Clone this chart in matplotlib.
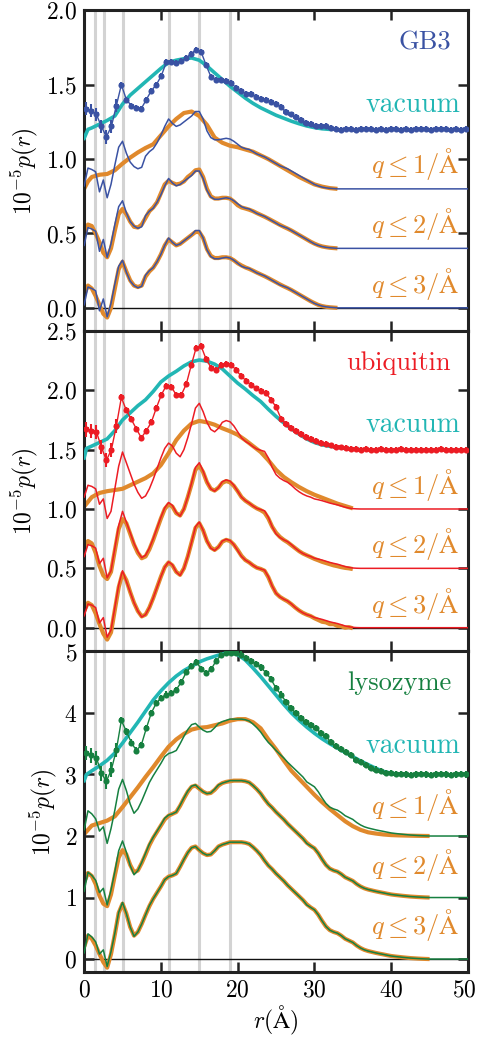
import numpy as np
import matplotlib
matplotlib.use("Agg")
import matplotlib.pyplot as plt
import matplotlib.transforms as mtransforms

plt.rcParams['font.family'] = 'serif'
plt.rcParams['font.serif'] = ['cmr10']
plt.rcParams['mathtext.fontset'] = 'cm'
plt.rcParams['axes.formatter.use_mathtext'] = True

# colours
c_gb3 = '#3a52a3'
c_ubq = '#ec1c24'
c_lys = '#168040'
c_vac = '#22b6b4'
c_org = '#e0892c'

# gray guide lines (Angstrom)
guide_r = [1.4, 2.6, 5.1, 11.0, 15.0, 19.0]

# ---------------- GB3 ----------------
# thin reference p(r), step 0.5 A from 0
gb3_thin = [
    0.02, 0.14, 0.13, 0.115, -0.02, 0.06, -0.06, 0.03, 0.16, 0.28,
    0.32, 0.24, 0.18, 0.15, 0.135, 0.145, 0.22, 0.25, 0.27, 0.31,
    0.36, 0.42, 0.47, 0.44, 0.42, 0.43, 0.45, 0.47, 0.49, 0.52,
    0.52, 0.47, 0.39, 0.345, 0.33, 0.33, 0.335, 0.34, 0.335, 0.32,
    0.30, 0.28, 0.27, 0.265, 0.25, 0.235, 0.225, 0.215, 0.20, 0.185,
    0.17, 0.155, 0.145, 0.135, 0.12, 0.105, 0.09, 0.075, 0.06, 0.045,
    0.03, 0.02, 0.012, 0.007, 0.004, 0.002, 0.0]
gb3_q3 = [
    0.09, 0.15, 0.13, 0.08, 0.02, -0.04, -0.065, 0.0, 0.13, 0.26,
    0.31, 0.245, 0.185, 0.15, 0.14, 0.15, 0.21, 0.245, 0.27, 0.31,
    0.36, 0.42, 0.46, 0.44, 0.42, 0.43, 0.45, 0.47, 0.49, 0.51,
    0.51, 0.47, 0.395, 0.35, 0.335, 0.335, 0.34, 0.34, 0.335, 0.32,
    0.30, 0.285, 0.272, 0.262, 0.25, 0.237, 0.225, 0.213, 0.20, 0.186,
    0.172, 0.158, 0.145, 0.133, 0.12, 0.105, 0.09, 0.075, 0.06, 0.045,
    0.032, 0.02, 0.012, 0.007, 0.004, 0.002, 0.0]
gb3_q2 = [
    0.10, 0.16, 0.15, 0.10, 0.04, -0.03, -0.06, 0.0, 0.12, 0.23,
    0.265, 0.23, 0.18, 0.145, 0.14, 0.16, 0.205, 0.25, 0.275, 0.31,
    0.37, 0.43, 0.455, 0.44, 0.43, 0.435, 0.45, 0.48, 0.50, 0.525,
    0.53, 0.48, 0.40, 0.35, 0.335, 0.335, 0.34, 0.34, 0.335, 0.315,
    0.29, 0.275, 0.268, 0.26, 0.25, 0.237, 0.225, 0.213, 0.20, 0.186,
    0.172, 0.158, 0.145, 0.133, 0.12, 0.105, 0.09, 0.075, 0.06, 0.045,
    0.032, 0.021, 0.013, 0.008, 0.004, 0.002, 0.0]
gb3_q1_r = [0, 0.5] + list(range(1, 34))
gb3_q1 = [
    0.0, 0.05, 0.08, 0.095, 0.10, 0.125, 0.17, 0.21, 0.245, 0.275,
    0.30, 0.36, 0.42, 0.47, 0.51, 0.52, 0.49, 0.43, 0.345, 0.31,
    0.29, 0.28, 0.265, 0.25, 0.225, 0.20, 0.17, 0.14, 0.11, 0.08,
    0.055, 0.03, 0.015, 0.005, 0.0]
gb3_vac_r = [0, 0.5] + list(range(1, 33))
gb3_vac = [
    -0.06, 0.0, 0.01, 0.035, 0.06, 0.09, 0.17, 0.23, 0.275, 0.32,
    0.365, 0.41, 0.45, 0.465, 0.475, 0.48, 0.465, 0.426, 0.38, 0.335,
    0.29, 0.25, 0.21, 0.175, 0.145, 0.12, 0.095, 0.075, 0.055, 0.038,
    0.023, 0.012, 0.004, 0.0]
# experiment, sampled every 0.65 A from 0.3 A (already offset by 1.2)
gb3_exp = [
    1.34, 1.325, 1.30, 1.22, 1.15, 1.22, 1.36, 1.50, 1.40, 1.36,
    1.345, 1.34, 1.40, 1.46, 1.50, 1.56, 1.65, 1.655, 1.645, 1.66,
    1.68, 1.71, 1.735, 1.72, 1.63, 1.55, 1.535, 1.535, 1.525, 1.51,
    1.48, 1.455, 1.44, 1.44, 1.42, 1.405, 1.40, 1.385, 1.37, 1.35,
    1.32, 1.30, 1.28, 1.265, 1.245, 1.235, 1.225, 1.222, 1.222, 1.21,
    1.20, 1.198, 1.202, 1.20, 1.197, 1.201, 1.20, 1.203, 1.199, 1.20,
    1.198, 1.20, 1.202, 1.199, 1.20, 1.197, 1.20, 1.201, 1.20, 1.198,
    1.20, 1.202, 1.20, 1.199, 1.20, 1.198, 1.20]
gb3_err = [0.045] * 7 + [0.02] * 70

# ---------------- ubiquitin ----------------
ubq_thin = [
    0.10, 0.20, 0.19, 0.17, 0.04, 0.085, -0.08, -0.02, 0.17, 0.36,
    0.48, 0.39, 0.30, 0.21, 0.14, 0.09, 0.11, 0.17, 0.25, 0.34,
    0.43, 0.51, 0.555, 0.53, 0.47, 0.44, 0.50, 0.60, 0.72, 0.85,
    0.89, 0.82, 0.73, 0.67, 0.65, 0.68, 0.73, 0.745, 0.735, 0.70,
    0.65, 0.60, 0.57, 0.55, 0.525, 0.505, 0.495, 0.485, 0.43, 0.35,
    0.29, 0.26, 0.24, 0.225, 0.20, 0.17, 0.145, 0.125, 0.11, 0.10,
    0.085, 0.078, 0.07, 0.06, 0.05, 0.042, 0.035, 0.025, 0.015, 0.008,
    0.003, 0.001, 0.0]
ubq_q3 = [
    0.14, 0.21, 0.19, 0.12, 0.03, -0.05, -0.10, -0.04, 0.15, 0.34,
    0.46, 0.40, 0.30, 0.21, 0.14, 0.095, 0.11, 0.17, 0.25, 0.34,
    0.43, 0.51, 0.55, 0.525, 0.47, 0.445, 0.50, 0.60, 0.72, 0.84,
    0.88, 0.82, 0.73, 0.675, 0.655, 0.68, 0.725, 0.74, 0.73, 0.70,
    0.655, 0.605, 0.57, 0.55, 0.525, 0.505, 0.495, 0.48, 0.425, 0.35,
    0.29, 0.26, 0.24, 0.222, 0.198, 0.17, 0.145, 0.125, 0.11, 0.098,
    0.08, 0.065, 0.05, 0.045, 0.03, 0.03, 0.015, 0.012, 0.0, 0.005,
    -0.005]
ubq_q2 = [
    0.17, 0.23, 0.21, 0.13, 0.02, -0.06, -0.09, -0.03, 0.15, 0.33,
    0.415, 0.38, 0.29, 0.20, 0.13, 0.085, 0.10, 0.16, 0.24, 0.33,
    0.42, 0.50, 0.54, 0.52, 0.465, 0.445, 0.50, 0.60, 0.71, 0.83,
    0.865, 0.81, 0.725, 0.67, 0.655, 0.68, 0.72, 0.735, 0.725, 0.695,
    0.65, 0.60, 0.57, 0.548, 0.525, 0.505, 0.49, 0.47, 0.42, 0.35,
    0.30, 0.265, 0.24, 0.22, 0.195, 0.17, 0.145, 0.125, 0.11, 0.095,
    0.08, 0.068, 0.055, 0.045, 0.035, 0.025, 0.018, 0.01, 0.004, 0.0,
    -0.006]
ubq_q1_r = list(range(0, 36))
ubq_q1 = [
    0.02, 0.10, 0.135, 0.15, 0.16, 0.17, 0.20, 0.23, 0.26, 0.30,
    0.37, 0.47, 0.58, 0.66, 0.72, 0.742, 0.73, 0.71, 0.68, 0.655,
    0.625, 0.58, 0.53, 0.48, 0.41, 0.33, 0.27, 0.225, 0.185, 0.15,
    0.12, 0.095, 0.07, 0.045, 0.025, 0.005]
ubq_vac_r = [0, 0.3] + list(range(1, 37))
ubq_vac = [
    -0.07, 0.01, 0.03, 0.06, 0.09, 0.16, 0.25, 0.31, 0.37, 0.42,
    0.49, 0.57, 0.62, 0.66, 0.705, 0.74, 0.755, 0.745, 0.72, 0.68,
    0.62, 0.56, 0.51, 0.455, 0.405, 0.34, 0.28, 0.225, 0.175, 0.13,
    0.09, 0.06, 0.04, 0.028, 0.02, 0.012, 0.005, 0.0]
ubq_exp = [
    1.67, 1.66, 1.65, 1.52, 1.41, 1.50, 1.70, 1.94, 1.83, 1.755,
    1.675, 1.60, 1.66, 1.73, 1.85, 1.96, 2.04, 2.03, 1.96, 1.96,
    2.05, 2.21, 2.36, 2.37, 2.26, 2.19, 2.17, 2.21, 2.225, 2.215,
    2.17, 2.12, 2.08, 2.045, 2.015, 1.99, 1.975, 1.92, 1.86, 1.76,
    1.72, 1.685, 1.655, 1.635, 1.605, 1.59, 1.575, 1.56, 1.545, 1.535,
    1.525, 1.518, 1.512, 1.508, 1.505, 1.50, 1.502, 1.498, 1.50, 1.503,
    1.50, 1.498, 1.50, 1.502, 1.50, 1.497, 1.50, 1.501, 1.50, 1.498,
    1.50, 1.502, 1.50, 1.499, 1.50, 1.498, 1.50]
ubq_err = [0.06] * 7 + [0.025] * 70

# ---------------- lysozyme ----------------
lys_thin = [
    0.10, 0.41, 0.36, 0.28, 0.08, 0.15, -0.12, 0.12, 0.42, 0.76,
    0.92, 0.74, 0.52, 0.37, 0.44, 0.57, 0.72, 0.87, 0.98, 1.08,
    1.18, 1.29, 1.34, 1.36, 1.39, 1.50, 1.62, 1.73, 1.81, 1.83,
    1.77, 1.72, 1.69, 1.70, 1.76, 1.83, 1.86, 1.88, 1.90, 1.90,
    1.90, 1.90, 1.89, 1.87, 1.82, 1.76, 1.69, 1.60, 1.52, 1.46,
    1.39, 1.33, 1.27, 1.20, 1.14, 1.08, 1.02, 0.96, 0.88, 0.84,
    0.80, 0.72, 0.62, 0.53, 0.47, 0.44, 0.42, 0.38, 0.33, 0.30,
    0.27, 0.22, 0.18, 0.15, 0.13, 0.115, 0.10, 0.087, 0.075, 0.062,
    0.05, 0.042, 0.035, 0.028, 0.022, 0.016, 0.012, 0.008, 0.005, 0.002,
    0.0]
lys_q3 = [
    0.20, 0.38, 0.33, 0.22, 0.08, -0.05, -0.14, 0.08, 0.40, 0.75,
    0.90, 0.74, 0.52, 0.38, 0.44, 0.57, 0.72, 0.86, 0.98, 1.08,
    1.18, 1.29, 1.34, 1.36, 1.39, 1.50, 1.62, 1.73, 1.81, 1.83,
    1.77, 1.72, 1.69, 1.70, 1.76, 1.83, 1.86, 1.88, 1.90, 1.90,
    1.90, 1.90, 1.89, 1.87, 1.82, 1.76, 1.69, 1.60, 1.52, 1.46,
    1.39, 1.33, 1.27, 1.20, 1.14, 1.08, 1.02, 0.96, 0.89, 0.84,
    0.80, 0.72, 0.62, 0.53, 0.47, 0.44, 0.42, 0.38, 0.33, 0.30,
    0.27, 0.22, 0.18, 0.15, 0.13, 0.115, 0.10, 0.087, 0.075, 0.062,
    0.05, 0.042, 0.035, 0.028, 0.022, 0.016, 0.012, 0.008, 0.005, 0.002,
    0.0]
lys_q2 = [
    0.25, 0.40, 0.35, 0.22, 0.03, -0.10, -0.14, 0.05, 0.36, 0.65,
    0.77, 0.70, 0.53, 0.41, 0.44, 0.56, 0.70, 0.85, 0.97, 1.07,
    1.17, 1.27, 1.33, 1.36, 1.39, 1.49, 1.61, 1.72, 1.80, 1.82,
    1.77, 1.72, 1.69, 1.70, 1.75, 1.82, 1.86, 1.88, 1.89, 1.90,
    1.90, 1.90, 1.89, 1.87, 1.82, 1.76, 1.69, 1.60, 1.52, 1.46,
    1.39, 1.33, 1.27, 1.20, 1.14, 1.08, 1.02, 0.96, 0.89, 0.84,
    0.80, 0.72, 0.62, 0.53, 0.47, 0.44, 0.42, 0.38, 0.33, 0.30,
    0.27, 0.22, 0.18, 0.15, 0.13, 0.115, 0.10, 0.087, 0.075, 0.062,
    0.05, 0.042, 0.035, 0.028, 0.022, 0.016, 0.012, 0.008, 0.005, 0.002,
    0.0]
lys_q1_r = list(range(0, 46))
lys_q1 = [
    0.03, 0.17, 0.21, 0.25, 0.32, 0.47, 0.63, 0.79, 0.96, 1.12,
    1.29, 1.45, 1.57, 1.66, 1.73, 1.76, 1.77, 1.80, 1.83, 1.875,
    1.90, 1.90, 1.85, 1.75, 1.57, 1.41, 1.23, 1.06, 0.93, 0.80,
    0.67, 0.55, 0.44, 0.34, 0.24, 0.16, 0.10, 0.06, 0.04, 0.025,
    0.015, 0.01, 0.007, 0.004, 0.002, 0.0]
lys_vac_r = [0, 0.3] + list(range(1, 43))
lys_vac = [
    -0.10, 0.0, 0.06, 0.14, 0.23, 0.35, 0.51, 0.68, 0.85, 1.03,
    1.21, 1.36, 1.49, 1.60, 1.69, 1.76, 1.83, 1.88, 1.92, 1.96,
    1.98, 1.95, 1.86, 1.73, 1.59, 1.44, 1.29, 1.14, 1.00, 0.88,
    0.77, 0.67, 0.58, 0.50, 0.43, 0.36, 0.29, 0.22, 0.16, 0.10,
    0.05, 0.02, 0.005, 0.0]
lys_exp = [
    3.35, 3.31, 3.27, 3.02, 2.89, 3.08, 3.40, 3.88, 3.70, 3.52,
    3.39, 3.48, 3.75, 4.00, 4.16, 4.25, 4.30, 4.33, 4.38, 4.50,
    4.66, 4.76, 4.83, 4.72, 4.65, 4.71, 4.85, 4.94, 4.97, 4.98,
    4.97, 4.95, 4.90, 4.85, 4.79, 4.74, 4.65, 4.55, 4.40, 4.30,
    4.18, 4.08, 4.00, 3.92, 3.86, 3.81, 3.75, 3.68, 3.62, 3.53,
    3.46, 3.41, 3.37, 3.31, 3.24, 3.20, 3.15, 3.11, 3.08, 3.05,
    3.03, 3.02, 3.01, 3.005, 3.00, 2.995, 3.00, 3.005, 3.00, 2.997,
    3.00, 3.003, 3.00, 2.998, 3.00, 3.002, 3.00]
lys_err = [0.12] * 7 + [0.05] * 70


def draw_panel(ax, name, color, thin, q3, q2, q1_r, q1, vac_r, vac,
               exp, err, offsets, ylim, yticks, name_x):
    off_exp, off_q1, off_q2 = offsets
    r_thin = list(np.arange(len(thin)) * 0.5) + [50.0]
    p_thin = np.array(list(thin) + [0.0])
    r_q3 = np.arange(len(q3)) * 0.5
    r_q2 = np.arange(len(q2)) * 0.5
    r_exp = 0.3 + 0.65 * np.arange(len(exp))

    for x in guide_r:
        ax.axvline(x, color='#d3d3d3', lw=2.2, zorder=0)
    ax.axhline(0, color='#111111', lw=1.0, zorder=1)

    # orange: truncated-q reconstructions
    ax.plot(r_q3, q3, color=c_org, lw=3.0, zorder=2, solid_capstyle='butt')
    ax.plot(r_q2, np.array(q2) + off_q2, color=c_org, lw=3.0, zorder=2, solid_capstyle='butt')
    ax.plot(q1_r, np.array(q1) + off_q1, color=c_org, lw=3.0, zorder=2, solid_capstyle='butt')

    # thin reference at each offset
    for off in (0.0, off_q2, off_q1):
        ax.plot(r_thin, p_thin + off, color=color, lw=1.1, zorder=3)

    # vacuum
    ax.plot(vac_r, np.array(vac) + off_exp, color=c_vac, lw=2.6, zorder=3)

    # experiment: thin joining line, horizontal bin bars, vertical error bars
    ax.plot(r_exp, exp, color=color, lw=1.0, zorder=4)
    ax.errorbar(r_exp, exp, xerr=0.33, fmt='none', ecolor=color,
                elinewidth=2.6, capsize=0, zorder=5)
    ax.errorbar(r_exp, exp, yerr=err, fmt='o', ms=4.4, mew=0, color=color,
                ecolor=color, elinewidth=1.5, capsize=2.4, capthick=1.4, zorder=5)

    ax.set_xlim(0, 50)
    ax.set_ylim(*ylim)
    ax.set_yticks(yticks)
    ax.set_xticks([0, 10, 20, 30, 40, 50])
    ax.set_ylabel(r'$10^{-5}p(r)$', fontsize=17, labelpad=4)

    ax.tick_params(direction='in', length=7, width=1.8, top=True, right=True,
                   labelsize=17, pad=5, color='#222222')
    for s in ax.spines.values():
        s.set_linewidth(2.2)
        s.set_color('#222222')

    tx = 0.979
    ax.text(name_x, 0.90, name, transform=ax.transAxes, ha='right', va='center',
            color=color, fontsize=19)
    ax.text(tx, 0.706, 'vacuum', transform=ax.transAxes, ha='right', va='center',
            color=c_vac, fontsize=20)
    for y, q in ((0.52, 1), (0.334, 2), (0.147, 3)):
        ax.text(tx, y, r'$q \leq %d/\mathrm{\AA}$' % q, transform=ax.transAxes,
                ha='right', va='center', color=c_org, fontsize=19)


fig, axes = plt.subplots(3, 1, figsize=(4.78, 10.38), dpi=100, sharex=True)
fig.subplots_adjust(left=0.176, right=0.979, top=0.990, bottom=0.0636, hspace=0)

draw_panel(axes[0], 'GB3', c_gb3, gb3_thin, gb3_q3, gb3_q2, gb3_q1_r, gb3_q1,
           gb3_vac_r, gb3_vac, gb3_exp, gb3_err, (1.2, 0.8, 0.4),
           (-0.155, 2.0), [0.0, 0.5, 1.0, 1.5, 2.0], 0.956)
draw_panel(axes[1], 'ubiquitin', c_ubq, ubq_thin, ubq_q3, ubq_q2, ubq_q1_r, ubq_q1,
           ubq_vac_r, ubq_vac, ubq_exp, ubq_err, (1.5, 1.0, 0.5),
           (-0.2, 2.5), [0.0, 0.5, 1.0, 1.5, 2.0, 2.5], 0.956)
draw_panel(axes[2], 'lysozyme', c_lys, lys_thin, lys_q3, lys_q2, lys_q1_r, lys_q1,
           lys_vac_r, lys_vac, lys_exp, lys_err, (3.0, 2.0, 1.0),
           (-0.21, 5.0), [0, 1, 2, 3, 4, 5], 0.956)

axes[2].set_xlabel(r'$r(\mathrm{\AA})$', fontsize=17, labelpad=2)

# keep the last x tick label inside the canvas
fig.canvas.draw()
last = axes[2].get_xticklabels()[-1]
last.set_horizontalalignment('right')
last.set_transform(last.get_transform() + mtransforms.ScaledTranslation(6 / 72, 0, fig.dpi_scale_trans))

fig.savefig('out.png', dpi=100)
